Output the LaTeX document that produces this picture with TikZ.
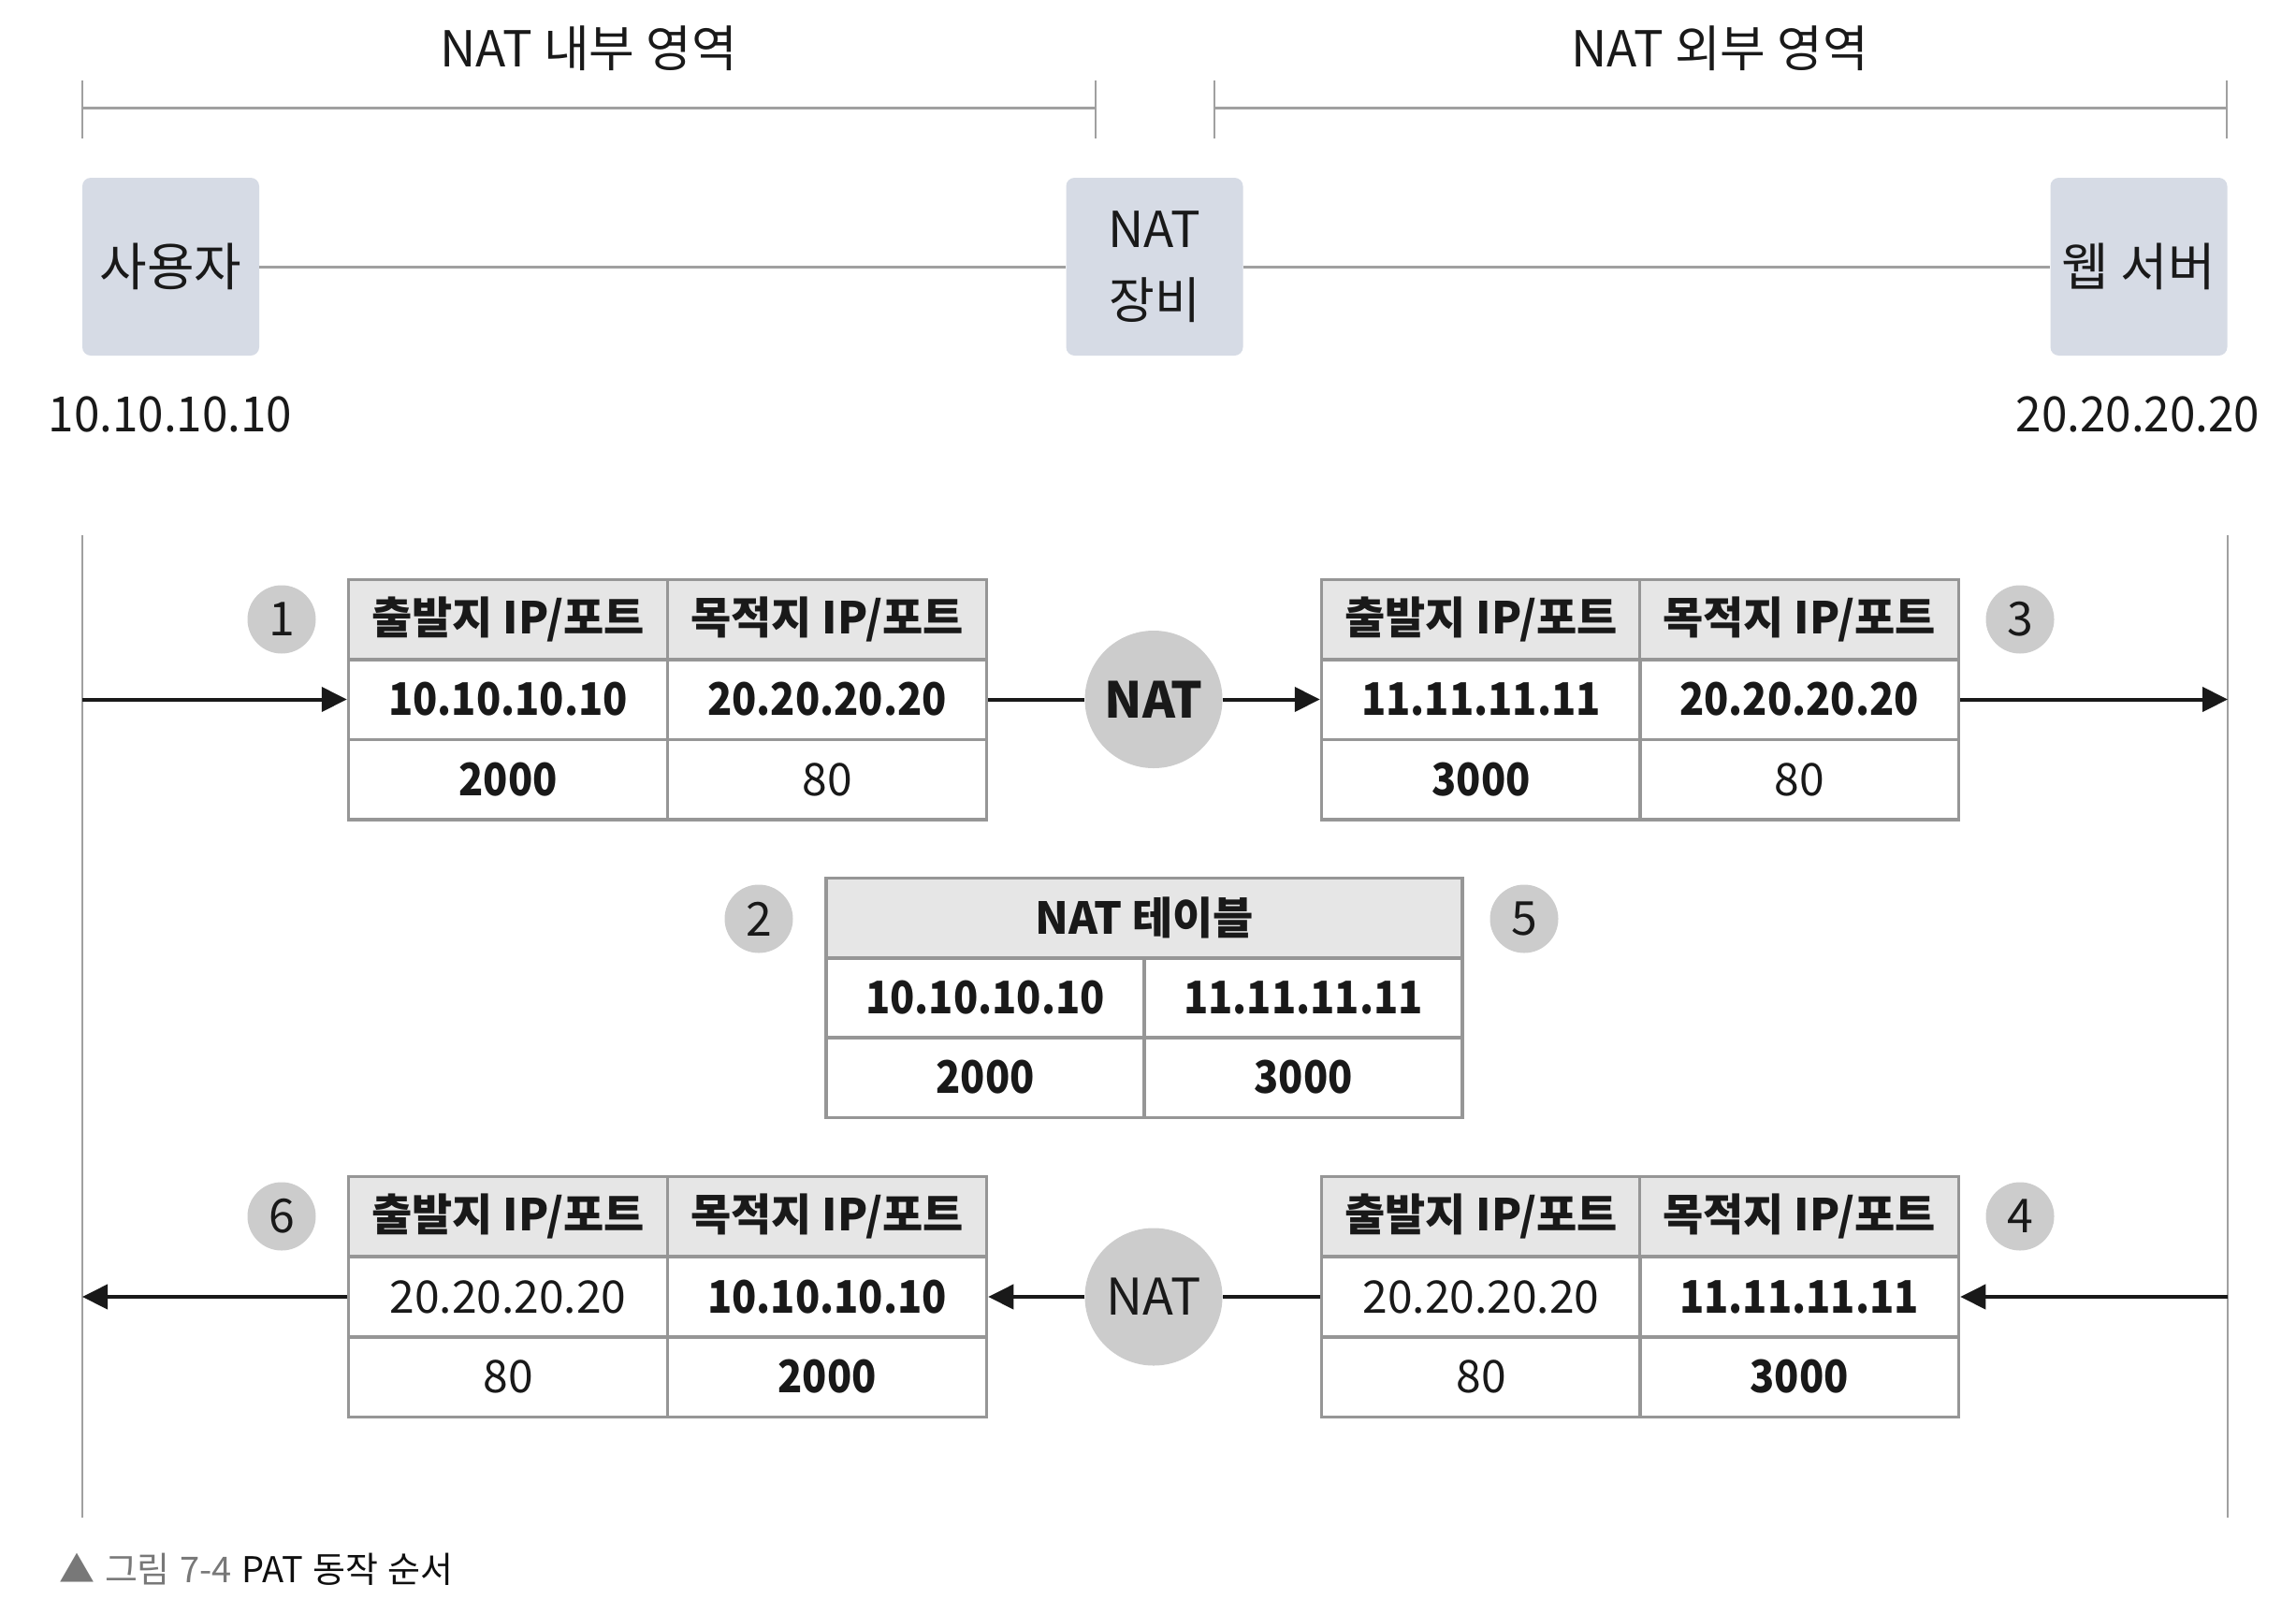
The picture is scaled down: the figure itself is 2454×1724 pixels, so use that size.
\documentclass[tikz,border=0pt]{standalone}
\usepackage{fontspec}
\setmainfont{Noto Sans CJK KR}
\newfontfamily\condfont{Noto Sans CJK KR}[FakeStretch=0.9]
\newfontfamily\semifont{Noto Sans CJK KR}[FakeStretch=0.95]
\usetikzlibrary{arrows.meta}
\definecolor{boxblue}{RGB}{214,219,229}
\definecolor{lgray}{RGB}{160,160,160}
\definecolor{circgray}{RGB}{204,204,204}
\definecolor{hdrgray}{RGB}{230,230,230}
\definecolor{tgray}{RGB}{150,150,150}
\definecolor{ink}{RGB}{25,25,25}
\definecolor{capgray}{RGB}{120,120,120}
\definecolor{capdark}{RGB}{15,15,15}
\newcommand\myfs[1]{\fontsize{#1}{#1}\selectfont}
\begin{document}
\begin{tikzpicture}[x=1pt,y=-1pt,
  every node/.style={text=ink},
  dev/.style={fill=boxblue, rounded corners=9pt, minimum width=189pt, minimum height=190pt, inner sep=0pt, font=\myfs{55}},
  link/.style={draw=lgray, line width=3pt},
  brk/.style={draw=lgray, line width=3pt},
  brtick/.style={draw=lgray, line width=2pt},
  lane/.style={draw=lgray, line width=2.5pt},
  cell/.style={draw=tgray, line width=3.5pt, minimum width=341pt, minimum height=85.5pt, inner sep=0pt, font=\myfs{48}},
  hdr/.style={cell, fill=hdrgray, font=\bfseries\myfs{47}},
  bcell/.style={cell, font=\condfont\bfseries\myfs{48}},
  num/.style={circle, fill=circgray, minimum size=73pt, inner sep=0pt, font=\myfs{50}},
  natc/.style={circle, fill=circgray, minimum size=147pt, inner sep=0pt, font=\myfs{54}},
  arr/.style={draw=ink, line width=4pt, -{Triangle[length=27pt,width=26pt]}},
  solidln/.style={draw=ink, line width=4pt},
]
\fill[white] (0,0) rectangle (2454,1724);
\useasboundingbox (0,0) rectangle (2454,1724);

% region labels and brackets
\node[font=\myfs{53}] (inlab) at (629,52) {NAT 내부 영역};
\node[font=\myfs{53}] (outlab) at (1838,52) {NAT 외부 영역};
\draw[brk] (88,115) -- (1171,115);
\draw[brtick] (88,86) -- (88,148);
\draw[brtick] (1171,86) -- (1171,148);
\draw[brk] (1298,115) -- (2380,115);
\draw[brtick] (1298,86) -- (1298,148);
\draw[brtick] (2380,86) -- (2380,148);

% devices
\node[dev] (user) at (182.5,285) {사용자};
\node[dev, align=center, font=\fontsize{53}{76}\selectfont] (natdev) at (1234,285) {NAT\\장비};
\node[dev] (web) at (2286,285) {웹 서버};
\draw[link] (user) -- (natdev);
\draw[link] (natdev) -- (web);
\node[font=\semifont\myfs{52}] (userip) at (182,443) {10.10.10.10};
\node[font=\semifont\myfs{52}] (webip) at (2285,443) {20.20.20.20};

% lanes
\coordinate (Ltop) at (88,572);
\coordinate (Lbot) at (88,1622);
\coordinate (Rtop) at (2381,572);
\coordinate (Rbot) at (2381,1622);
\draw[lane] (Ltop) -- (Lbot);
\draw[lane] (Rtop) -- (Rbot);
\coordinate (Lin) at (88,747.5);
\coordinate (Rout) at (2381,747.5);
\coordinate (Rin) at (2381,1386);
\coordinate (Lout) at (88,1386);

% table 1
\node[hdr] (t1h1) at (543,662) {출발지 IP/포트};
\node[hdr] (t1h2) at (884,662) {목적지 IP/포트};
\node[bcell] (t1a1) at (543,747.5) {10.10.10.10};
\node[bcell] (t1a2) at (884,747.5) {20.20.20.20};
\node[bcell] (t1b1) at (543,833) {2000};
\node[cell] (t1b2) at (884,833) {80};

% table 3
\node[hdr] (t3h1) at (1583,662) {출발지 IP/포트};
\node[hdr] (t3h2) at (1923,662) {목적지 IP/포트};
\node[bcell] (t3a1) at (1583,747.5) {11.11.11.11};
\node[bcell] (t3a2) at (1923,747.5) {20.20.20.20};
\node[bcell] (t3b1) at (1583,833) {3000};
\node[cell] (t3b2) at (1923,833) {80};

% NAT table
\node[hdr, minimum width=680pt] (nth) at (1223,981) {NAT 테이블};
\node[bcell, minimum width=340pt] (nta1) at (1053,1066.5) {10.10.10.10};
\node[bcell, minimum width=340pt] (nta2) at (1393,1066.5) {11.11.11.11};
\node[bcell, minimum width=340pt] (ntb1) at (1053,1151.5) {2000};
\node[bcell, minimum width=340pt] (ntb2) at (1393,1151.5) {3000};

% table 6
\node[hdr] (t6h1) at (543,1300) {출발지 IP/포트};
\node[hdr] (t6h2) at (884,1300) {목적지 IP/포트};
\node[cell] (t6a1) at (543,1386) {20.20.20.20};
\node[bcell] (t6a2) at (884,1386) {10.10.10.10};
\node[cell] (t6b1) at (543,1471.5) {80};
\node[bcell] (t6b2) at (884,1471.5) {2000};

% table 4
\node[hdr] (t4h1) at (1583,1300) {출발지 IP/포트};
\node[hdr] (t4h2) at (1923,1300) {목적지 IP/포트};
\node[cell] (t4a1) at (1583,1386) {20.20.20.20};
\node[bcell] (t4a2) at (1923,1386) {11.11.11.11};
\node[cell] (t4b1) at (1583,1471.5) {80};
\node[bcell] (t4b2) at (1923,1471.5) {3000};

% NAT circles
\node[natc, font=\bfseries\myfs{53}] (nat1) at (1233,747.5) {NAT};
\node[natc] (nat2) at (1233,1386) {NAT};

% step numbers
\node[num] (n1) at (301,662) {1};
\node[num] (n3) at (2159,662) {3};
\node[num] (n2) at (811,982) {2};
\node[num] (n5) at (1629,982) {5};
\node[num] (n6) at (301,1300) {6};
\node[num] (n4) at (2159,1300) {4};

% flows
\draw[arr] (Lin) -- (t1a1.west);
\draw[solidln] (t1a2.east) -- (nat1.west);
\draw[arr] (nat1.east) -- (t3a1.west);
\draw[arr] (t3a2.east) -- (Rout);
\draw[arr] (Rin) -- (t4a2.east);
\draw[solidln] (t4a1.west) -- (nat2.east);
\draw[arr] (nat2.west) -- (t6a2.east);
\draw[arr] (t6a1.west) -- (Lout);

% caption
\node[anchor=west, font=\myfs{38}] (cap) at (60,1677) {\textcolor{capgray}{▲\hspace{2pt} 그림\hspace{2pt} 7-4}\hspace{2pt} \textcolor{capdark}{PAT\hspace{2pt} 동작\hspace{2pt} 순서}};
\end{tikzpicture}
\end{document}
